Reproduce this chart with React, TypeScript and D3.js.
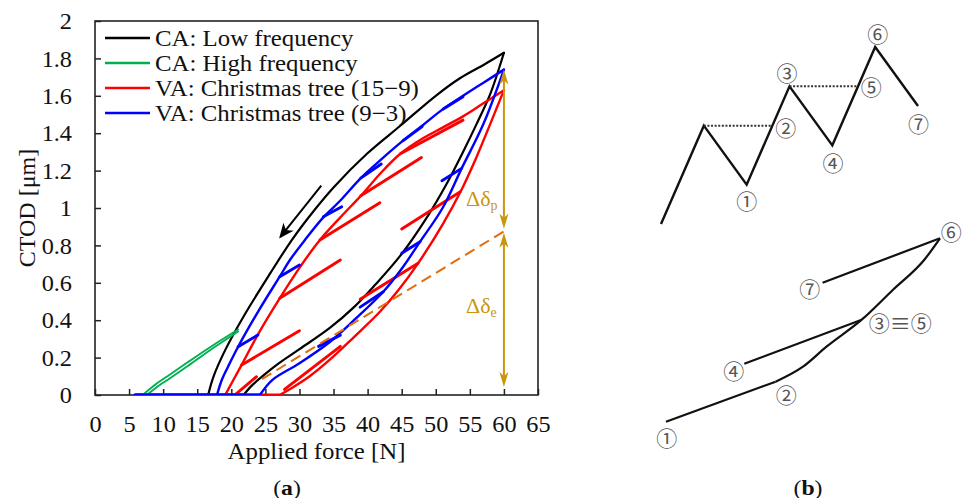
import React, { useEffect, useRef } from 'react';
import * as d3 from 'd3';

const W = 963;
const H = 498;

// ---- panel (a): axes ----
const X_TICKS = [0, 5, 10, 15, 20, 25, 30, 35, 40, 45, 50, 55, 60, 65];
const Y_TICKS = [0, 0.2, 0.4, 0.6, 0.8, 1, 1.2, 1.4, 1.6, 1.8, 2];

const LEGEND_LABELS = [
  'CA: Low frequency',
  'CA: High frequency',
  'VA: Christmas tree (15\u22129)',
  'VA: Christmas tree (9\u22123)',
];
const LEGEND_COLORS = ['#000000', '#00b050', '#ff0000', '#0000ff'];

// CA low frequency (black)
const caLowUnloadF = [60, 57, 53.6, 50, 44.8, 39.9, 35, 32, 28.9, 25.7, 21.8, 19.1, 17.4, 16.6];
const caLowUnloadC = [1.83, 1.765, 1.695, 1.6, 1.44, 1.29, 1.11, 0.98, 0.83, 0.65, 0.42, 0.24, 0.1, 0];
const caLowLoadF = [21.8, 23, 24.5, 27, 30, 34.5, 38, 41, 44.8, 48.7, 51.6, 54, 56, 58, 60];
const caLowLoadC = [0, 0.05, 0.098, 0.17, 0.245, 0.36, 0.47, 0.585, 0.745, 0.95, 1.13, 1.3, 1.45, 1.61, 1.83];
const caLowFloor = [6, 21.8];

// CA high frequency (green)
const caHighLoadF = [7.6, 9, 11, 14, 17.5, 21];
const caHighLoadC = [0, 0.04, 0.09, 0.165, 0.255, 0.34];
const caHighUnloadF = [21, 17.5, 14, 11, 9, 7];
const caHighUnloadC = [0.35, 0.27, 0.185, 0.11, 0.06, 0];

// VA Christmas tree 15-9 (red)
const va159UnloadF = [60, 57, 54, 51, 48, 44.8, 42, 39, 36, 33, 30, 27.1, 24, 21.5, 20, 19.1];
const va159UnloadC = [1.63, 1.56, 1.49, 1.43, 1.37, 1.29, 1.19, 1.065, 0.95, 0.829, 0.68, 0.517, 0.33, 0.16, 0.06, 0];
const va159LoadF = [27.1, 29, 31.5, 34.5, 38, 41.8, 44.5, 47.4, 51.1, 54, 55.8, 58, 59, 60];
const va159LoadC = [0, 0.04, 0.1, 0.19, 0.31, 0.445, 0.56, 0.704, 0.918, 1.114, 1.257, 1.45, 1.54, 1.63];
const va159Floor = [6, 27.1];
const va159TineF0 = [21.5, 27.1, 33, 39, 44.8, 20.5, 27.8, 38.9, 45];
const va159TineC0 = [0.16, 0.517, 0.829, 1.065, 1.29, 0, 0.03, 0.512, 0.888];
const va159TineF1 = [30, 36, 41.8, 47.9, 54, 23.7, 36, 47.4, 53.6];
const va159TineC1 = [0.344, 0.722, 1.028, 1.27, 1.47, 0.098, 0.26, 0.704, 1.087];

// VA Christmas tree 9-3 (blue)
const va93UnloadF = [60, 57, 54, 51.1, 48, 45.2, 42, 39, 36, 33.5, 30.8, 28.6, 27.1, 24, 21, 19.5, 18.6, 17.9];
const va93UnloadC = [1.74, 1.67, 1.6, 1.53, 1.44, 1.36, 1.26, 1.16, 1.04, 0.95, 0.829, 0.722, 0.633, 0.45, 0.258, 0.15, 0.08, 0];
const va93LoadF = [24.2, 26, 30, 34.5, 38, 42.3, 45, 47.7, 51, 53.8, 57, 60];
const va93LoadC = [0, 0.08, 0.17, 0.285, 0.4, 0.552, 0.675, 0.82, 1.0, 1.212, 1.45, 1.74];
const va93Floor = [5.8, 24.2];
const va93TineF0 = [21, 27.1, 33.5, 39, 45.2, 51.1, 32.8, 38.9, 45, 50.9];
const va93TineC0 = [0.258, 0.633, 0.953, 1.16, 1.36, 1.53, 0.26, 0.47, 0.758, 1.146];
const va93TineF1 = [23.9, 30, 36.2, 42, 48, 54, 36, 42.3, 47.7, 53.8];
const va93TineC1 = [0.321, 0.695, 1.007, 1.235, 1.435, 1.595, 0.32, 0.552, 0.82, 1.212];

// elastic line and deltas
const elasticF = [24.5, 60];
const elasticC = [0.085, 0.875];
const deltaF = 60;
const deltaLevels = [1.74, 0.873, 0];

// unloading direction arrow
const dirArrowF = [33.2, 27.2];
const dirArrowC = [1.12, 0.845];

// ---- panel (b): schematic ----
const seqStep = [0, 1, 2, 3, 4, 5, 6];
const seqLoad = [0, 5, 2, 7, 4, 9, 6];
const refStepFrom = [1, 3];
const refStepTo = [2.6, 4.6];
const refLoad = [5, 7];
const topLabels = ['\u2460', '\u2461', '\u2462', '\u2463', '\u2464', '\u2465', '\u2466'];
const topLabelStep = [2, 2.6, 3, 4, 4.6, 5, 6];
const topLabelLoad = [2, 5, 7, 4, 7, 9, 6];

const pathLoadA = [2, 4.8];
const pathCtodA = [0, 2.0];
const pathLoadB = [4.8, 5.5, 6.1, 7, 7.8, 8.6, 9];
const pathCtodB = [2.0, 2.75, 3.75, 5.1, 6.6, 8.1, 9.17];
const unloadLoad1 = [7, 4];
const unloadCtod1 = [5.1, 2.9];
const unloadLoad2 = [9, 6];
const unloadCtod2 = [9.17, 6.95];
const botLabels = ['\u2460', '\u2461', '\u2462\u2261\u2464', '\u2463', '\u2465', '\u2466'];
const botLabelLoad = [2, 4.8, 7, 4, 9, 6];
const botLabelCtod = [0, 2.0, 5.1, 2.9, 9.17, 6.95];

const SERIF = '"Liberation Serif", "Times New Roman", serif';
const CJK = '"Noto Sans CJK JP", "DejaVu Sans", sans-serif';
const GOLD = '#c9960c';
const SX = 1.08; // the source lettering is a little wide

type P = [number, number];
const zip = (a: number[], b: number[]): P[] => a.map((v, i) => [v, b[i]]);

export default function App() {
  const ref = useRef<SVGSVGElement>(null);

  useEffect(() => {
    if (!ref.current) return;
    const svg = d3.select(ref.current);
    svg.selectAll('*').remove();

    const x = d3.scaleLinear().domain([0, 65]).range([95, 538]);
    const y = d3.scaleLinear().domain([0, 2]).range([395, 21]);

    svg.append('rect').attr('width', W).attr('height', H).attr('fill', '#fff');

    const label = (px: number, py: number, size: number, anchor = 'start') =>
      svg.append('text')
        .attr('transform', `translate(${px},${py}) scale(${SX},1)`)
        .attr('text-anchor', anchor).attr('dominant-baseline', 'central')
        .attr('font-family', SERIF).attr('font-size', size).attr('fill', '#111');

    // axes
    const xAxis = svg.append('g')
      .attr('transform', `translate(0,${y(0)})`)
      .call(d3.axisBottom(x).tickValues(X_TICKS).tickSize(-6).tickFormat(d3.format('')));
    const yAxis = svg.append('g')
      .attr('transform', `translate(${x(0)},0)`)
      .call(d3.axisLeft(y).tickValues(Y_TICKS).tickSize(-6).tickFormat(d3.format('')));
    [xAxis, yAxis].forEach((g) => {
      g.select('.domain').remove();
      g.selectAll('line').attr('stroke', '#222').attr('stroke-width', 1.5);
      g.selectAll('text').attr('font-family', SERIF).attr('font-size', 22.5).attr('fill', '#111')
        .attr('dy', null).attr('dominant-baseline', 'central');
    });
    xAxis.selectAll('text').attr('y', 0).attr('transform', `translate(0,29) scale(${SX},1)`);
    yAxis.selectAll('text').attr('x', 0).attr('transform', `translate(-23,0) scale(${SX},1)`);

    svg.append('rect')
      .attr('x', x(0)).attr('y', y(2))
      .attr('width', x(65) - x(0)).attr('height', y(0) - y(2))
      .attr('fill', 'none').attr('stroke', '#222').attr('stroke-width', 1.6);

    svg.append('text')
      .attr('transform', `translate(27,${(y(0) + y(2)) / 2}) rotate(-90)`)
      .attr('text-anchor', 'middle').attr('dominant-baseline', 'central')
      .attr('font-family', SERIF).attr('font-size', 24).attr('fill', '#111')
      .text('CTOD [\u03bcm]');
    label((x(0) + x(65)) / 2, 451, 23, 'middle').text('Applied force [N]');

    // plot curves
    svg.append('clipPath').attr('id', 'plotClip')
      .append('rect').attr('x', x(0)).attr('y', y(2))
      .attr('width', x(65) - x(0)).attr('height', y(0) - y(2));
    const plot = svg.append('g').attr('clip-path', 'url(#plotClip)');

    const smooth = d3.line<P>().x((d) => x(d[0])).y((d) => y(d[1])).curve(d3.curveCatmullRom.alpha(0.5));
    const straight = d3.line<P>().x((d) => x(d[0])).y((d) => y(d[1]));

    const drawSeries = (
      color: string, width: number, branches: P[][], floor: number[] | null,
      tines: { f0: number[]; c0: number[]; f1: number[]; c1: number[] } | null,
    ) => {
      const g = plot.append('g').attr('fill', 'none').attr('stroke', color).attr('stroke-linecap', 'round');
      if (floor) g.append('path').attr('d', straight([[floor[0], 0], [floor[1], 0]])).attr('stroke-width', width + 0.6);
      branches.forEach((b) => g.append('path').attr('d', smooth(b)).attr('stroke-width', width));
      if (tines) {
        tines.f0.forEach((f, i) => {
          g.append('path')
            .attr('d', straight([[f, tines.c0[i]], [tines.f1[i], tines.c1[i]]]))
            .attr('stroke-width', width + 0.5);
        });
      }
    };

    drawSeries('#000', 2.2, [zip(caLowUnloadF, caLowUnloadC), zip(caLowLoadF, caLowLoadC)], caLowFloor, null);
    drawSeries('#00b050', 1.9, [zip(caHighLoadF, caHighLoadC), zip(caHighUnloadF, caHighUnloadC)], null, null);
    drawSeries('#ff0000', 2.4, [zip(va159UnloadF, va159UnloadC), zip(va159LoadF, va159LoadC)], va159Floor,
      { f0: va159TineF0, c0: va159TineC0, f1: va159TineF1, c1: va159TineC1 });
    drawSeries('#0000ff', 2.4, [zip(va93UnloadF, va93UnloadC), zip(va93LoadF, va93LoadC)], va93Floor,
      { f0: va93TineF0, c0: va93TineC0, f1: va93TineF1, c1: va93TineC1 });

    // elastic (dashed) line
    plot.append('path')
      .attr('d', straight(zip(elasticF, elasticC)))
      .attr('fill', 'none').attr('stroke', '#e46c0a').attr('stroke-width', 2)
      .attr('stroke-dasharray', '11,6');

    // unloading direction arrow
    const a0: P = [x(dirArrowF[0]), y(dirArrowC[0])];
    const a1: P = [x(dirArrowF[1]), y(dirArrowC[1])];
    const ang = (Math.atan2(a1[1] - a0[1], a1[0] - a0[0]) * 180) / Math.PI;
    svg.append('line')
      .attr('x1', a0[0]).attr('y1', a0[1]).attr('x2', a1[0]).attr('y2', a1[1])
      .attr('stroke', '#000').attr('stroke-width', 2);
    svg.append('path')
      .attr('transform', `translate(${a1[0]},${a1[1]}) rotate(${ang})`)
      .attr('d', 'M2,0 L-13,-6.5 L-9,0 L-13,6.5 Z').attr('fill', '#000');

    // delta arrows
    const ax = x(deltaF);
    const head = (tipY: number, dir: number) =>
      `M${ax},${tipY} L${ax - 4.5},${tipY - dir * 15} L${ax},${tipY - dir * 11} L${ax + 4.5},${tipY - dir * 15} Z`;
    const segs: [number, number][] = [
      [y(deltaLevels[0]), y(deltaLevels[1]) - 3],
      [y(deltaLevels[1]) + 1, y(deltaLevels[2]) - 8],
    ];
    segs.forEach(([t, b]) => {
      svg.append('line').attr('x1', ax).attr('x2', ax).attr('y1', t + 8).attr('y2', b - 8)
        .attr('stroke', GOLD).attr('stroke-width', 2);
      svg.append('path').attr('d', head(t, -1)).attr('fill', GOLD);
      svg.append('path').attr('d', head(b, 1)).attr('fill', GOLD);
    });
    const deltaLabel = (cy: number, sub: string) => {
      const t = svg.append('text').attr('x', 466).attr('y', cy)
        .attr('font-family', SERIF).attr('font-size', 22).attr('fill', GOLD);
      t.append('tspan').text('\u0394\u03b4');
      t.append('tspan').attr('font-size', 14).attr('dy', 4).text(sub);
    };
    deltaLabel(206, 'p');
    deltaLabel(313, 'e');

    // legend
    LEGEND_LABELS.forEach((lab, i) => {
      const ly = 38 + i * 25;
      svg.append('line').attr('x1', 105).attr('x2', 150).attr('y1', ly).attr('y2', ly)
        .attr('stroke', LEGEND_COLORS[i]).attr('stroke-width', 2.4);
      label(155, ly, 23).text(lab);
    });

    // captions
    const caption = (cx: number, letter: string) => {
      const t = label(cx, 487, 22, 'middle');
      t.append('tspan').text('(');
      t.append('tspan').attr('font-weight', 'bold').text(letter);
      t.append('tspan').text(')');
    };
    caption(287, 'a');
    caption(808, 'b');

    // ---- panel (b) ----
    const stepX = d3.scaleLinear().domain([0, 6]).range([661, 918]);
    const loadY = d3.scaleLinear().domain([0, 9]).range([224, 47]);
    const b = svg.append('g');
    b.append('path')
      .attr('d', d3.line<number>().x((s) => stepX(s)).y((_, i) => loadY(seqLoad[i]))(seqStep))
      .attr('fill', 'none').attr('stroke', '#111').attr('stroke-width', 2.4).attr('stroke-linejoin', 'miter');
    refLoad.forEach((l, i) => {
      b.append('line').attr('x1', stepX(refStepFrom[i])).attr('x2', stepX(refStepTo[i]))
        .attr('y1', loadY(l)).attr('y2', loadY(l))
        .attr('stroke', '#333').attr('stroke-width', 2).attr('stroke-dasharray', '2,1.6');
    });
    const topOff: P[] = [[0, 15], [13.5, 1], [-2.5, -14.5], [0.7, 16.5], [13.3, 0], [2.5, -14.5], [0.6, 16.5]];
    topLabels.forEach((lab, i) => {
      b.append('text')
        .attr('x', stepX(topLabelStep[i]) + topOff[i][0]).attr('y', loadY(topLabelLoad[i]) + topOff[i][1])
        .attr('text-anchor', 'middle').attr('dominant-baseline', 'central')
        .attr('font-family', CJK).attr('font-size', 21).attr('fill', '#555').text(lab);
    });

    const sLoadX = d3.scaleLinear().domain([2, 9]).range([666, 940]);
    const sCtodY = d3.scaleLinear().domain([0, 10]).range([421.7, 221.7]);
    const sStraight = d3.line<P>().x((d) => sLoadX(d[0])).y((d) => sCtodY(d[1]));
    const sCurve = d3.line<P>().x((d) => sLoadX(d[0])).y((d) => sCtodY(d[1])).curve(d3.curveMonotoneX);
    [
      sStraight(zip(pathLoadA, pathCtodA)),
      sCurve(zip(pathLoadB, pathCtodB)),
      sStraight(zip(unloadLoad1, unloadCtod1)),
      sStraight(zip(unloadLoad2, unloadCtod2)),
    ].forEach((d) => {
      b.append('path').attr('d', d).attr('fill', 'none').attr('stroke', '#111').attr('stroke-width', 2.2);
    });
    const botOff: P[] = [[0.7, 15], [10.7, 12.3], [7, 2.7], [-10.6, 6], [11.2, -7.6], [-12.7, 5.6]];
    botLabels.forEach((lab, i) => {
      b.append('text')
        .attr('x', sLoadX(botLabelLoad[i]) + botOff[i][0]).attr('y', sCtodY(botLabelCtod[i]) + botOff[i][1])
        .attr('text-anchor', i === 2 ? 'start' : 'middle').attr('dominant-baseline', 'central')
        .attr('font-family', CJK).attr('font-size', 21).attr('fill', '#555').text(lab);
    });
  }, []);

  return (
    <svg
      ref={ref}
      width={W}
      height={H}
      style={{ position: 'absolute', left: 0, top: 0, display: 'block' }}
    />
  );
}
